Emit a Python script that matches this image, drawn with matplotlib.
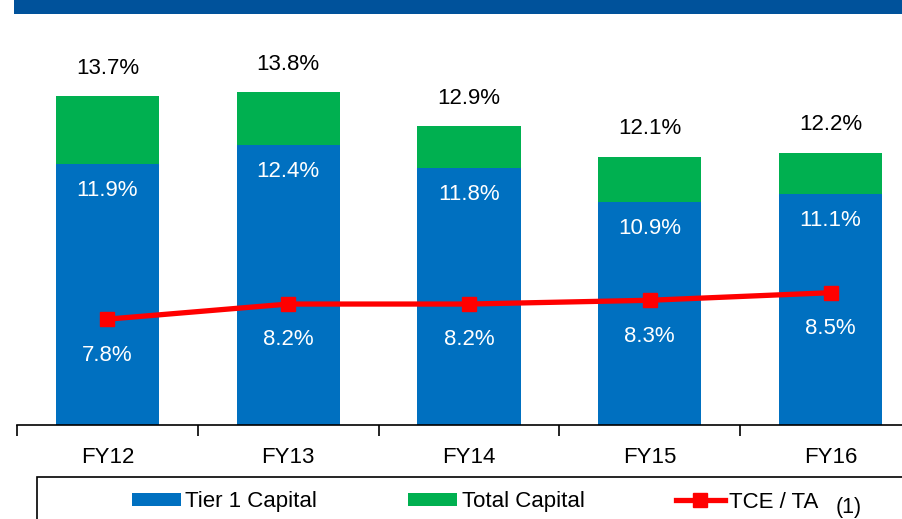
import matplotlib
matplotlib.use("Agg")
import matplotlib.pyplot as plt
from matplotlib.patches import Rectangle, Patch
from matplotlib.lines import Line2D

categories = ["FY12", "FY13", "FY14", "FY15", "FY16"]
tier1 = [11.9, 12.4, 11.8, 10.9, 11.1]
total = [13.7, 13.8, 12.9, 12.1, 12.2]
tce_ta = [7.8, 8.2, 8.2, 8.3, 8.5]

BLUE = "#0070C0"
GREEN = "#00B050"
RED = "#FF0000"
BANNER = "#00529B"

plt.rcParams["font.family"] = ["Liberation Sans", "DejaVu Sans"]

W, H = 903, 519
fig = plt.figure(figsize=(W / 100, H / 100), dpi=100)

# banner at top
fig.patches.append(Rectangle((14 / W, 1 - 14 / H), 1, 14 / H, transform=fig.transFigure,
                             facecolor=BANNER, edgecolor="none", zorder=0))

ax = fig.add_axes([17 / W, 94 / H, (921 - 17) / W, (425 - 14) / H])
ax.set_xlim(-0.5, 4.5)
ymin = 5.0
ymax = ymin + 411 / 37.8
ax.set_ylim(ymin, ymax)

x = list(range(len(categories)))
bw = 0.57
base = [ymin] * len(x)
ax.bar(x, [t - ymin for t in tier1], bottom=base, width=bw, color=BLUE, zorder=2)
ax.bar(x, [tt - t for tt, t in zip(total, tier1)], bottom=tier1, width=bw, color=GREEN, zorder=2)
ax.plot(x, tce_ta, color=RED, lw=3.8, marker="s", markersize=10.5, zorder=3)

fs = 16
for i in x:
    ax.text(i, total[i] + 0.74, f"{total[i]:.1f}%", ha="center", va="center",
            fontsize=fs, color="black")
    ax.text(i, tier1[i] - 0.69, f"{tier1[i]:.1f}%", ha="center", va="center",
            fontsize=fs, color="white", zorder=4)
    ax.text(i, tce_ta[i] - 0.95, f"{tce_ta[i]:.1f}%", ha="center", va="center",
            fontsize=fs, color="white", zorder=4)

for s in ["left", "right", "top"]:
    ax.spines[s].set_visible(False)
ax.spines["bottom"].set_linewidth(1.2)
ax.set_yticks([])
ax.set_xticks(x)
ax.set_xticklabels(categories, fontsize=fs)
ax.tick_params(axis="x", which="major", length=0, pad=16)
ax.set_xticks([i - 0.5 for i in range(len(categories) + 1)], minor=True)
ax.tick_params(axis="x", which="minor", length=8, width=1.2, direction="out")

# legend box
fig.patches.append(Rectangle((37 / W, -0.05), 1, (519 - 477) / H + 0.05, transform=fig.transFigure,
                             facecolor="white", edgecolor="black", lw=1.2, zorder=1))
handles = [Patch(facecolor=BLUE, edgecolor="none"),
           Patch(facecolor=GREEN, edgecolor="none"),
           Line2D([0], [0], color=RED, lw=3.8, marker="s", markersize=10.5)]
labels = ["Tier 1 Capital", "Total Capital", "TCE / TA"]
leg = fig.legend(handles, labels, loc="center left", bbox_to_anchor=(132 / W, (519 - 502) / H),
                 ncol=3, frameon=False, fontsize=fs, handlelength=2.2, handleheight=0.5,
                 handletextpad=0.2, columnspacing=4.1, borderaxespad=0, borderpad=0)
fig.text(836 / W, (519 - 508) / H, "(1)", fontsize=15.5, ha="left", va="center")

fig.savefig("out.png", dpi=100)
